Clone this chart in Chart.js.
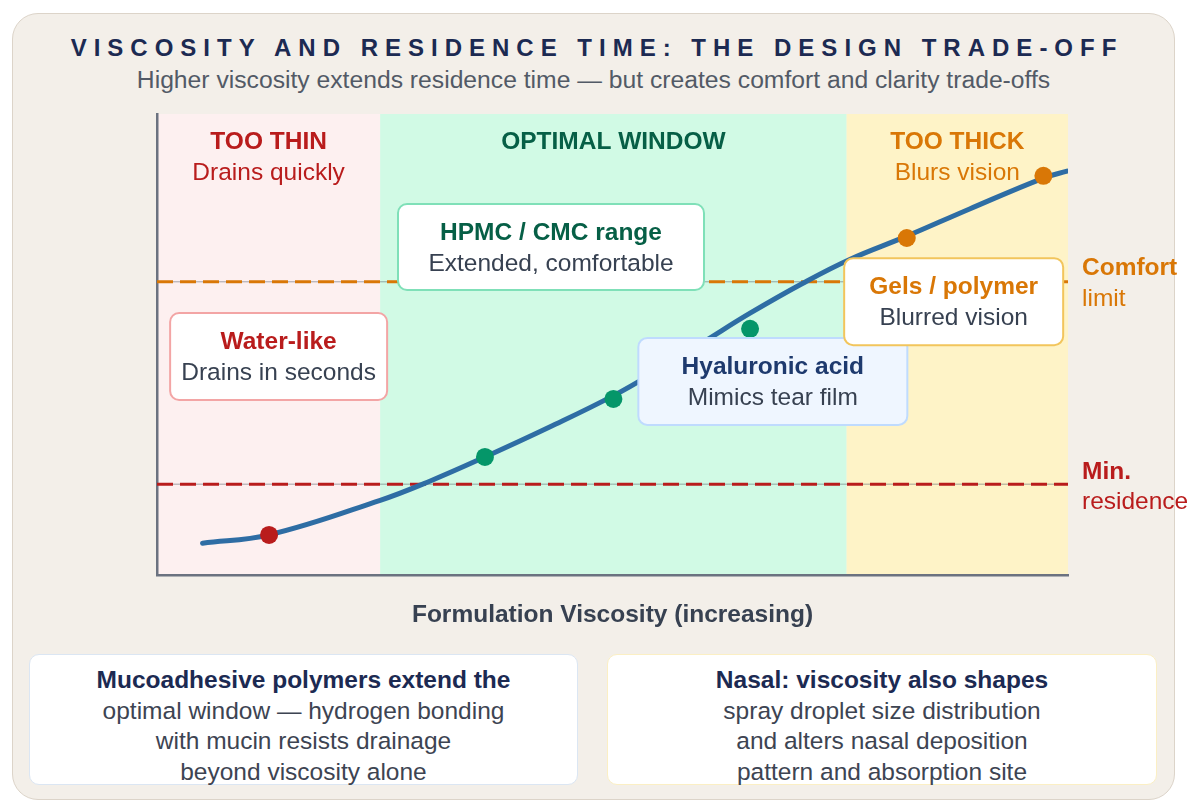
<!DOCTYPE html>
<html>
<head>
<meta charset="utf-8">
<title>Viscosity and residence time</title>
<script src="https://cdn.jsdelivr.net/npm/chart.js@4.4.1/dist/chart.umd.min.js"></script>
<style>
  html, body {
    margin: 0;
    padding: 0;
    width: 1187px;
    height: 812px;
    overflow: hidden;
    background: #ffffff;
    font-family: "Liberation Sans", Arial, Helvetica, sans-serif;
  }
  .card {
    position: absolute;
    left: 12px;
    top: 13px;
    width: 1163px;
    height: 787px;
    box-sizing: border-box;
    background: #f3efe9;
    border: 1.5px solid #dcd4c9;
    border-radius: 26px;
  }
  .title {
    position: absolute;
    left: 0;
    top: 33px;
    width: 1187px;
    padding-left: 7px;
    box-sizing: border-box;
    text-align: center;
    font-size: 24px;
    line-height: 30px;
    font-weight: bold;
    letter-spacing: 7px;
    color: #1c2a52;
  }
  .subtitle {
    position: absolute;
    left: 0;
    top: 65px;
    width: 1187px;
    text-align: center;
    font-size: 24.7px;
    line-height: 30px;
    color: #525a66;
  }
  .note {
    position: absolute;
    top: 654px;
    height: 131px;
    box-sizing: border-box;
    background: #ffffff;
    border-radius: 10px;
    text-align: center;
    font-size: 24.5px;
    line-height: 30.7px;
    color: #3d4452;
    padding-top: 10px;
  }
  .note b { color: #1c2a52; }
  .note.left { left: 29px; width: 549px; border: 1.5px solid #dbe6f3; }
  .note.right { left: 607px; width: 550px; border: 1.5px solid #fbefc4; }
  canvas {
    position: absolute;
    left: 0;
    top: 0;
    z-index: 2;
  }
</style>
</head>
<body>
<div class="card"></div>
<div class="title">VISCOSITY AND RESIDENCE TIME: THE DESIGN TRADE-OFF</div>
<div class="subtitle">Higher viscosity extends residence time — but creates comfort and clarity trade-offs</div>
<div class="note left"><b>Mucoadhesive polymers extend the</b><br>optimal window — hydrogen bonding<br>with mucin resists drainage<br>beyond viscosity alone</div>
<div class="note right"><b>Nasal: viscosity also shapes</b><br>spray droplet size distribution<br>and alters nasal deposition<br>pattern and absorption site</div>
<canvas id="chart" width="1187" height="812"></canvas>

<script>
// --- data (x = relative viscosity 0-100, y = relative residence time 0-100) ---
const zoneEdges = [0, 24.5, 75.7, 100];
const zoneTitles = ['TOO THIN', 'OPTIMAL WINDOW', 'TOO THICK'];
const zoneNotes = ['Drains quickly', '', 'Blurs vision'];

const curveX = [5, 12.3, 24.5, 30, 36, 43.1, 50, 55.2, 60.2, 65.1, 70.9, 76.1, 82.3, 89.2, 97.3, 99.9];
const curveY = [6.9, 8.7, 16.2, 20.4, 25.6, 32.1, 38.8, 44.7, 50.8, 56.8, 63.3, 68.5, 73.5, 79.4, 86.1, 87.6];

const markerX = [12.3, 36.0, 50.1, 65.1, 82.3, 97.3];
const markerY = [8.7, 25.6, 38.2, 53.4, 73.1, 86.6];

const comfortLimit = 63.6;
const minResidence = 19.7;

const calloutTitles = ['Water-like', 'HPMC / CMC range', 'Hyaluronic acid', 'Gels / polymer'];
const calloutNotes = ['Drains in seconds', 'Extended, comfortable', 'Mimics tear film', 'Blurred vision'];

// --- styling / placement ---
const FONT = '"Liberation Sans", Arial, Helvetica, sans-serif';
const zoneFills = ['#fdf0f0', '#d1fae5', '#fef3c7'];
const zoneInk = ['#b91c1c', '#065f46', '#d97706'];
const pointInk = ['#b91c1c', '#059669', '#d97706'];
const TEXT_GRAY = '#374151';

// centre of each callout in data units, box size in px
const callouts = [
  { at: [13.35, 47.4], w: 217, h: 87, fill: '#ffffff', stroke: '#f3a5a5', ink: '#b91c1c' },
  { at: [43.25, 71.15], w: 306, h: 86, fill: '#ffffff', stroke: '#7fe0b8', ink: '#065f46' },
  { at: [67.6, 42.0], w: 269, h: 87, fill: '#eff6ff', stroke: '#bfdbfe', ink: '#1e3a6e' },
  { at: [87.45, 59.3], w: 219, h: 87, fill: '#ffffff', stroke: '#f2c55c', ink: '#d97706' },
];

const limitLabels = [
  { y: comfortLimit, title: 'Comfort', note: 'limit', ink: '#d97706', dy: [-14, 17] },
  { y: minResidence, title: 'Min.', note: 'residence', ink: '#b91c1c', dy: [-12, 18] },
];

function zoneOf(x) {
  for (let i = 0; i < zoneTitles.length; i++) {
    if (x >= zoneEdges[i] && x < zoneEdges[i + 1]) return i;
  }
  return zoneTitles.length - 1;
}

function roundRect(ctx, x, y, w, h, r) {
  ctx.beginPath();
  ctx.moveTo(x + r, y);
  ctx.lineTo(x + w - r, y);
  ctx.arcTo(x + w, y, x + w, y + r, r);
  ctx.lineTo(x + w, y + h - r);
  ctx.arcTo(x + w, y + h, x + w - r, y + h, r);
  ctx.lineTo(x + r, y + h);
  ctx.arcTo(x, y + h, x, y + h - r, r);
  ctx.lineTo(x, y + r);
  ctx.arcTo(x, y, x + r, y, r);
  ctx.closePath();
}

const zonePlugin = {
  id: 'zones',
  beforeDraw(chart) {
    const { ctx, chartArea: a, scales: { x } } = chart;
    ctx.save();
    for (let i = 0; i < zoneTitles.length; i++) {
      const x0 = x.getPixelForValue(zoneEdges[i]);
      const x1 = x.getPixelForValue(zoneEdges[i + 1]);
      ctx.fillStyle = zoneFills[i];
      ctx.fillRect(x0, a.top, x1 - x0, a.bottom - a.top);
    }
    ctx.restore();
  },
  beforeDatasetsDraw(chart) {
    const { ctx, chartArea: a, scales: { x } } = chart;
    ctx.save();
    ctx.textAlign = 'center';
    ctx.textBaseline = 'middle';
    for (let i = 0; i < zoneTitles.length; i++) {
      const cx = (x.getPixelForValue(zoneEdges[i]) + x.getPixelForValue(zoneEdges[i + 1])) / 2;
      ctx.fillStyle = zoneInk[i];
      ctx.font = 'bold 24.5px ' + FONT;
      ctx.fillText(zoneTitles[i], cx, a.top + 28);
      if (zoneNotes[i]) {
        ctx.font = '24.5px ' + FONT;
        ctx.fillText(zoneNotes[i], cx, a.top + 59);
      }
    }
    ctx.restore();
  },
  afterDatasetsDraw(chart) {
    const { ctx, chartArea: a, scales: { x, y } } = chart;
    ctx.save();
    ctx.textAlign = 'center';
    ctx.textBaseline = 'middle';
    callouts.forEach((c, i) => {
      const cx = x.getPixelForValue(c.at[0]);
      const cy = y.getPixelForValue(c.at[1]);
      roundRect(ctx, cx - c.w / 2, cy - c.h / 2, c.w, c.h, 9);
      ctx.fillStyle = c.fill;
      ctx.fill();
      ctx.lineWidth = 2;
      ctx.strokeStyle = c.stroke;
      ctx.stroke();
      ctx.fillStyle = c.ink;
      ctx.font = 'bold 24.5px ' + FONT;
      ctx.fillText(calloutTitles[i], cx, cy - 14);
      ctx.fillStyle = TEXT_GRAY;
      ctx.font = '24.5px ' + FONT;
      ctx.fillText(calloutNotes[i], cx, cy + 17);
    });

    // labels for the two threshold lines, right of the plot
    ctx.textAlign = 'left';
    limitLabels.forEach((l) => {
      const py = y.getPixelForValue(l.y);
      ctx.fillStyle = l.ink;
      ctx.font = 'bold 24.5px ' + FONT;
      ctx.fillText(l.title, a.right + 14, py + l.dy[0]);
      ctx.font = '24.5px ' + FONT;
      ctx.fillText(l.note, a.right + 14, py + l.dy[1]);
    });
    ctx.restore();
  },
};

const hline = (value) => [{ x: zoneEdges[0], y: value }, { x: zoneEdges[zoneEdges.length - 1], y: value }];

const hiddenAxis = {
  min: 0,
  max: 100,
  ticks: { display: false },
  grid: { display: false, drawTicks: false },
  border: { display: true, color: '#6b7280', width: 2.5 },
};

new Chart(document.getElementById('chart'), {
  type: 'scatter',
  data: {
    datasets: [
      {
        label: 'Formulations',
        data: markerX.map((v, i) => ({ x: v, y: markerY[i] })),
        pointRadius: 9,
        pointHoverRadius: 9,
        pointBorderWidth: 0,
        pointBackgroundColor: markerX.map((v) => pointInk[zoneOf(v)]),
        order: 0,
      },
      {
        label: 'Residence time',
        data: curveX.map((v, i) => ({ x: v, y: curveY[i] })),
        showLine: true,
        borderColor: '#2e6da4',
        borderWidth: 5,
        borderCapStyle: 'round',
        tension: 0.4,
        pointRadius: 0,
        order: 1,
      },
      {
        label: 'Comfort limit',
        data: hline(comfortLimit),
        showLine: true,
        borderColor: '#d97706',
        borderWidth: 3,
        borderDash: [16, 7],
        pointRadius: 0,
        order: 2,
      },
      {
        label: 'Min. residence',
        data: hline(minResidence),
        showLine: true,
        borderColor: '#b91c1c',
        borderWidth: 3,
        borderDash: [16, 7],
        pointRadius: 0,
        order: 2,
      },
      {
        label: 'comfort guide',
        data: hline(comfortLimit),
        showLine: true,
        borderColor: 'rgba(90, 96, 108, 0.55)',
        borderWidth: 1,
        pointRadius: 0,
        order: 3,
      },
      {
        label: 'residence guide',
        data: hline(minResidence),
        showLine: true,
        borderColor: 'rgba(90, 96, 108, 0.55)',
        borderWidth: 1,
        pointRadius: 0,
        order: 3,
      },
    ],
  },
  options: {
    responsive: false,
    animation: false,
    devicePixelRatio: 1,
    layout: { padding: { left: 157, top: 114, right: 119, bottom: 181.6 } },
    plugins: {
      legend: { display: false },
      tooltip: { enabled: false },
    },
    scales: {
      x: {
        ...hiddenAxis,
        type: 'linear',
        title: {
          display: true,
          text: 'Formulation Viscosity (increasing)',
          color: TEXT_GRAY,
          font: { family: FONT, size: 24.5, weight: 'bold' },
          padding: { top: 26, bottom: 0 },
        },
      },
      y: { ...hiddenAxis },
    },
  },
  plugins: [zonePlugin],
});
</script>
</body>
</html>
